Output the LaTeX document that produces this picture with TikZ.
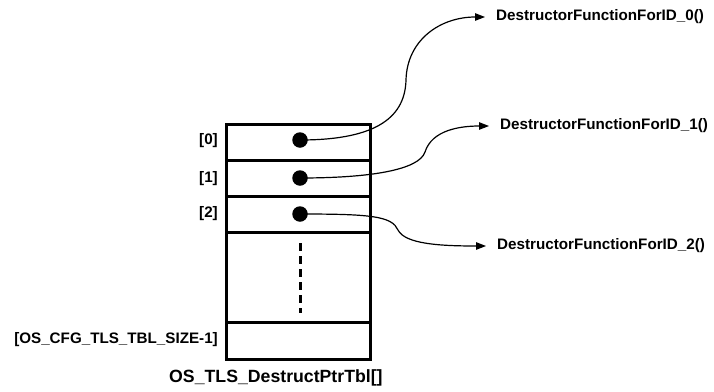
\documentclass[tikz,border=0pt]{standalone}
\usepackage{fontspec}
\setmainfont{Liberation Sans}
\usetikzlibrary{arrows.meta}
\tikzset{
  cell/.style={draw, line width=3pt, minimum width=144pt, inner sep=0pt, outer sep=0pt},
  dotnode/.style={circle, fill=black, minimum size=15.5pt, inner sep=0pt},
  idx/.style={anchor=east, inner sep=0pt, font=\bfseries\fontsize{15.2}{17}\selectfont},
  fn/.style={anchor=west, inner xsep=11pt, inner ysep=0pt, font=\bfseries\fontsize{15.2}{17}\selectfont},
  link/.style={line width=1.2pt, -{Triangle[length=10pt,width=7.5pt]}},
}
\begin{document}
\begin{tikzpicture}[x=1pt,y=-1pt]
\useasboundingbox (0,0) rectangle (714,391);
% table rows
\node[cell, minimum height=36pt] (r0) at (298,142) {};
\node[cell, minimum height=36pt] (r1) at (298,178) {};
\node[cell, minimum height=36pt] (r2) at (298,214) {};
\node[cell, minimum height=90pt] (rm) at (298,277) {};
\node[cell, minimum height=37pt] (rl) at (298,340.5) {};
% dashed ellipsis
\coordinate (da) at (300,243);
\coordinate (db) at (300,313);
\draw[line width=3pt, dash pattern=on 8pt off 5pt] (da) -- (db);
% dots
\node[dotnode] (d0) at (300,140) {};
\node[dotnode] (d1) at (300,178) {};
\node[dotnode] (d2) at (300,214) {};
% index labels
\node[idx] (i0) at (218,141) {[0]};
\node[idx] (i1) at (218,179) {[1]};
\node[idx] (i2) at (218,214) {[2]};
\node[idx] (il) at (218,340) {[OS\_CFG\_TLS\_TBL\_SIZE-1]};
% title
\node[anchor=west, inner sep=0pt, font=\bfseries\fontsize{17.7}{20}\selectfont] (title) at (169,378) {OS\_TLS\_DestructPtrTbl[]};
% function labels
\node[fn] (f0) at (485,17) {DestructorFunctionForID\_0()};
\node[fn] (f1) at (489,126) {DestructorFunctionForID\_1()};
\node[fn] (f2) at (486,246) {DestructorFunctionForID\_2()};
% connectors
\coordinate (m0) at (406,80);
\coordinate (m1) at (425,152);
\coordinate (m2) at (398,230);
\draw[link] (d0.center) .. controls (380,140) and (405,115) .. (m0)
  .. controls (407,40) and (440,17) .. (f0.west);
\draw[link] (d1.center) .. controls (370,178) and (419,170) .. (m1)
  .. controls (432,130) and (460,126) .. (f1.west);
\draw[link] (d2.center) .. controls (370,214) and (392,216) .. (m2)
  .. controls (405,244) and (440,246) .. (f2.west);
\end{tikzpicture}
\end{document}
